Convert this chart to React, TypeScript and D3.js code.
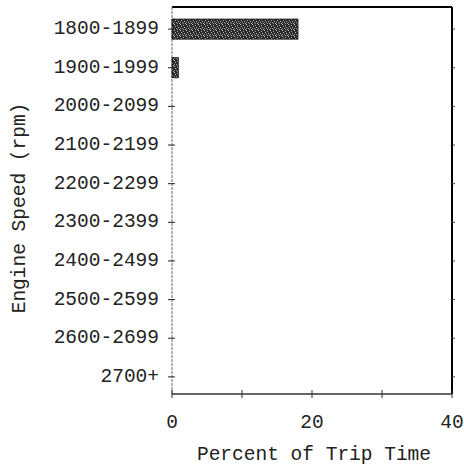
import React from "react";
import * as d3 from "d3";

const categories = [
  "1800-1899", "1900-1999", "2000-2099", "2100-2199", "2200-2299",
  "2300-2399", "2400-2499", "2500-2599", "2600-2699", "2700+",
];
const percentValues = [18.0, 0.9, 0, 0, 0, 0, 0, 0, 0, 0];
const xTickValues = [0, 10, 20, 30, 40];
const xTickLabels = ["0", "", "20", "", "40"];

const W = 464;
const H = 468;
const margin = { left: 172, right: 12, top: 7, bottom: 73 };
const FONT = "'Liberation Mono', 'Courier New', monospace";
const TEXT = "#222";

// light specks scattered over a dark ground for the bar fill
const speckles: [number, number, string][] = [
  [0, 0, "#ccc"], [3, 1, "#aaa"], [1, 2, "#bbb"], [4, 3, "#ccc"],
  [2, 4, "#999"], [5, 5, "#bbb"], [0, 4, "#888"], [3, 5, "#999"],
];

export default function App() {
  const x = d3.scaleLinear().domain([0, 40]).range([margin.left, W - margin.right]);
  const y = d3
    .scaleBand<string>()
    .domain(categories)
    .range([margin.top + 2, H - margin.bottom + 2])
    .paddingInner(0.48)
    .paddingOuter(0.26);
  const plotTop = margin.top;
  const plotBottom = H - margin.bottom - 1;
  const x0 = x(0);
  const x1 = x(40);

  return (
    <svg
      width={W}
      height={H}
      style={{ position: "absolute", left: 0, top: 0, background: "#fff" }}
      fontFamily={FONT}
    >
      <defs>
        <pattern id="stipple" width="6" height="6" patternUnits="userSpaceOnUse">
          <rect width="6" height="6" fill="#2a2a2a" />
          {speckles.map(([px, py, col], i) => (
            <rect key={i} x={px} y={py} width="1" height="1" fill={col} />
          ))}
        </pattern>
      </defs>

      {/* frame: top and right edges */}
      <line x1={x0} x2={x1} y1={plotTop} y2={plotTop} stroke="#000" strokeWidth={2} />
      <line x1={x1} x2={x1} y1={plotTop} y2={plotBottom} stroke="#000" strokeWidth={2} />
      {/* left axis */}
      <line x1={x0} x2={x0} y1={plotTop} y2={plotBottom} stroke="#666" strokeWidth={1} strokeDasharray="3,1" />
      {/* bottom axis */}
      <line x1={x0} x2={x1} y1={plotBottom} y2={plotBottom} stroke="#333" strokeWidth={1.5} />

      {/* bars */}
      {categories.map((c, i) =>
        percentValues[i] > 0 ? (
          <rect
            key={c}
            x={x0}
            y={y(c)!}
            width={x(percentValues[i]) - x0}
            height={y.bandwidth()}
            fill="url(#stipple)"
            stroke="#111"
            strokeWidth={0.8}
          />
        ) : null
      )}

      {/* category ticks and labels */}
      {categories.map((c) => {
        const cy = y(c)! + y.bandwidth() / 2;
        return (
          <g key={c}>
            <line x1={x0 - 4} x2={x0 + 3} y1={cy} y2={cy} stroke="#222" strokeWidth={1} />
            <line x1={x1} x2={x1 + 3} y1={cy} y2={cy} stroke="#444" strokeWidth={1} />
            <text
              x={x0 - 13}
              y={cy}
              textAnchor="end"
              dominantBaseline="central"
              fontSize={19.5}
              fill={TEXT}
            >
              {c}
            </text>
          </g>
        );
      })}

      {/* x ticks and labels */}
      {xTickValues.map((v, i) => (
        <g key={v}>
          <line x1={x(v)} x2={x(v)} y1={plotBottom - 4} y2={plotBottom + 4} stroke="#333" strokeWidth={1} />
          {xTickLabels[i] && (
            <text x={x(v)} y={423} textAnchor="middle" dominantBaseline="central" fontSize={19.5} fill={TEXT}>
              {xTickLabels[i]}
            </text>
          )}
        </g>
      ))}

      <text x={(x0 + x1) / 2 + 2} y={455} textAnchor="middle" dominantBaseline="central" fontSize={19.5} fill={TEXT}>
        Percent of Trip Time
      </text>
      <text
        transform={`translate(20, 208) rotate(-90)`}
        textAnchor="middle"
        dominantBaseline="central"
        fontSize={19.5}
        fill={TEXT}
      >
        Engine Speed (rpm)
      </text>
    </svg>
  );
}
